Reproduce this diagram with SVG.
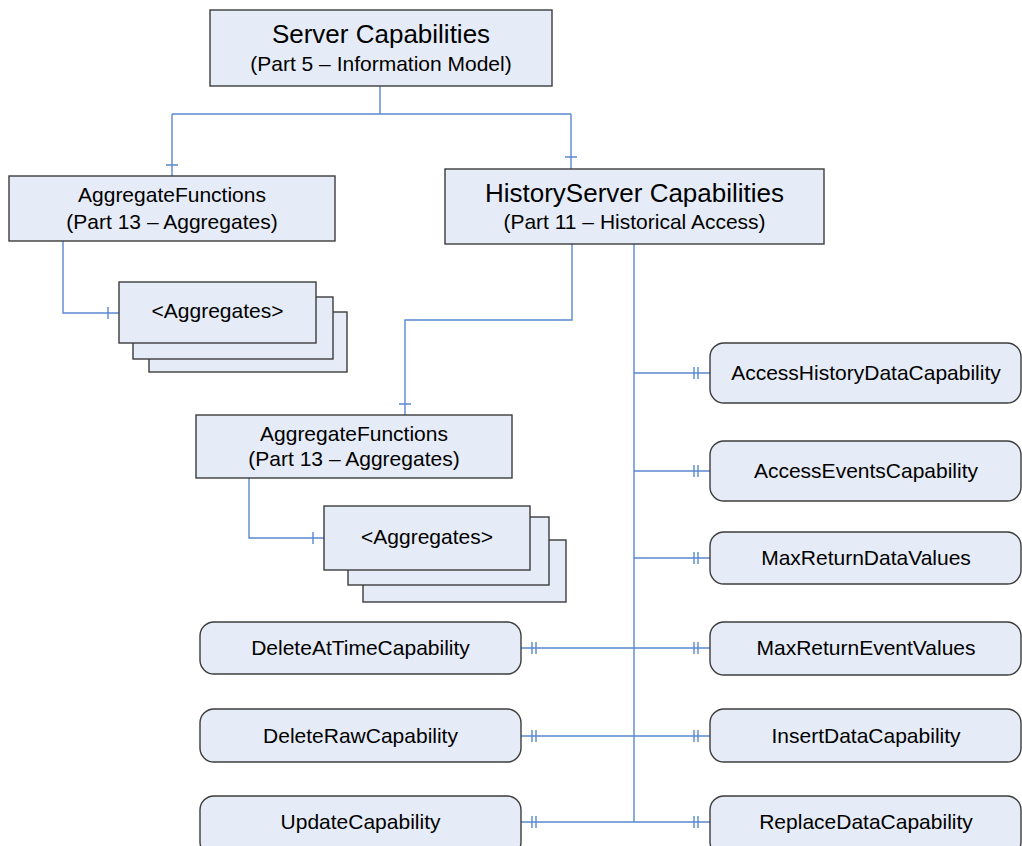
<svg xmlns="http://www.w3.org/2000/svg" width="1022" height="846" viewBox="0 0 1022 846">
<style>
.box{fill:#E6ECF7;stroke:#3C3C3C;stroke-width:1.4}
.t{font-family:"Liberation Sans",Arial,sans-serif;fill:#000;text-anchor:middle}
.big{font-size:26px}
.sm{font-size:21px}
.ln{fill:none;stroke:#5A88CF;stroke-width:1.4}
</style>
<rect width="1022" height="846" fill="#fff"/>
<g id="connectors">
  <path class="ln" d="M380,86 V114 M172,114 H571 M172,114 V176 M571,114 V169"/>
  <path class="ln" d="M166,165 H178 M565,157 H577"/>
  <path class="ln" d="M63,241 V313 H119 M108,307 V319"/>
  <path class="ln" d="M572,244 V320 H405 V415 M399,404 H411"/>
  <path class="ln" d="M249,478 V538 H324 M313,532 V544"/>
  <path class="ln" d="M634,244 V822"/>
  <path class="ln" d="M634,373 H710 M694,367 V379 M698,367 V379"/>
  <path class="ln" d="M634,471 H710 M694,465 V477 M698,465 V477"/>
  <path class="ln" d="M634,558 H710 M694,552 V564 M698,552 V564"/>
  <path class="ln" d="M521,648 H710 M694,642 V654 M698,642 V654 M532,642 V654 M536,642 V654"/>
  <path class="ln" d="M521,736 H710 M694,730 V742 M698,730 V742 M532,730 V742 M536,730 V742"/>
  <path class="ln" d="M521,822 H710 M694,816 V828 M698,816 V828 M532,816 V828 M536,816 V828"/>
</g>
<g id="server-capabilities">
  <rect class="box" x="210" y="10" width="342" height="76"/>
  <text class="t big" x="381" y="43">Server Capabilities</text>
  <text class="t sm" x="381" y="71">(Part 5 – Information Model)</text>
</g>
<g id="aggregate-functions-1">
  <rect class="box" x="9" y="176" width="326" height="65"/>
  <text class="t sm" x="172" y="202">AggregateFunctions</text>
  <text class="t sm" x="172" y="229">(Part 13 – Aggregates)</text>
</g>
<g id="aggregates-1">
  <rect class="box" x="149" y="312" width="198" height="60"/>
  <rect class="box" x="133" y="297" width="200" height="62"/>
  <rect class="box" x="119" y="282" width="197" height="61"/>
  <text class="t sm" x="217.5" y="318">&lt;Aggregates&gt;</text>
</g>
<g id="history-server-capabilities">
  <rect class="box" x="445" y="169" width="379" height="75"/>
  <text class="t big" x="634.5" y="202">HistoryServer Capabilities</text>
  <text class="t sm" x="634.5" y="229">(Part 11 – Historical Access)</text>
</g>
<g id="aggregate-functions-2">
  <rect class="box" x="196" y="415" width="316" height="63"/>
  <text class="t sm" x="354" y="441">AggregateFunctions</text>
  <text class="t sm" x="354" y="466">(Part 13 – Aggregates)</text>
</g>
<g id="aggregates-2">
  <rect class="box" x="363" y="540" width="203" height="62"/>
  <rect class="box" x="348" y="517" width="201" height="68"/>
  <rect class="box" x="324" y="506" width="206" height="64"/>
  <text class="t sm" x="427" y="544">&lt;Aggregates&gt;</text>
</g>
<g id="access-history-data-capability">
  <rect class="box" x="710" y="343" width="311" height="60" rx="14"/>
  <text class="t sm" x="866" y="380">AccessHistoryDataCapability</text>
</g>
<g id="access-events-capability">
  <rect class="box" x="710" y="441" width="311" height="60" rx="14"/>
  <text class="t sm" x="866" y="478">AccessEventsCapability</text>
</g>
<g id="max-return-data-values">
  <rect class="box" x="710" y="532" width="311" height="52" rx="14"/>
  <text class="t sm" x="866" y="565">MaxReturnDataValues</text>
</g>
<g id="max-return-event-values">
  <rect class="box" x="710" y="622" width="311" height="53" rx="14"/>
  <text class="t sm" x="866" y="655">MaxReturnEventValues</text>
</g>
<g id="insert-data-capability">
  <rect class="box" x="710" y="709" width="311" height="53" rx="14"/>
  <text class="t sm" x="866" y="743">InsertDataCapability</text>
</g>
<g id="replace-data-capability">
  <rect class="box" x="710" y="796" width="311" height="60" rx="14"/>
  <text class="t sm" x="866" y="829">ReplaceDataCapability</text>
</g>
<g id="delete-at-time-capability">
  <rect class="box" x="200" y="622" width="321" height="52" rx="14"/>
  <text class="t sm" x="360.5" y="655">DeleteAtTimeCapability</text>
</g>
<g id="delete-raw-capability">
  <rect class="box" x="200" y="709" width="321" height="53" rx="14"/>
  <text class="t sm" x="360.5" y="743">DeleteRawCapability</text>
</g>
<g id="update-capability">
  <rect class="box" x="200" y="796" width="321" height="60" rx="14"/>
  <text class="t sm" x="360.5" y="829">UpdateCapability</text>
</g>
</svg>
